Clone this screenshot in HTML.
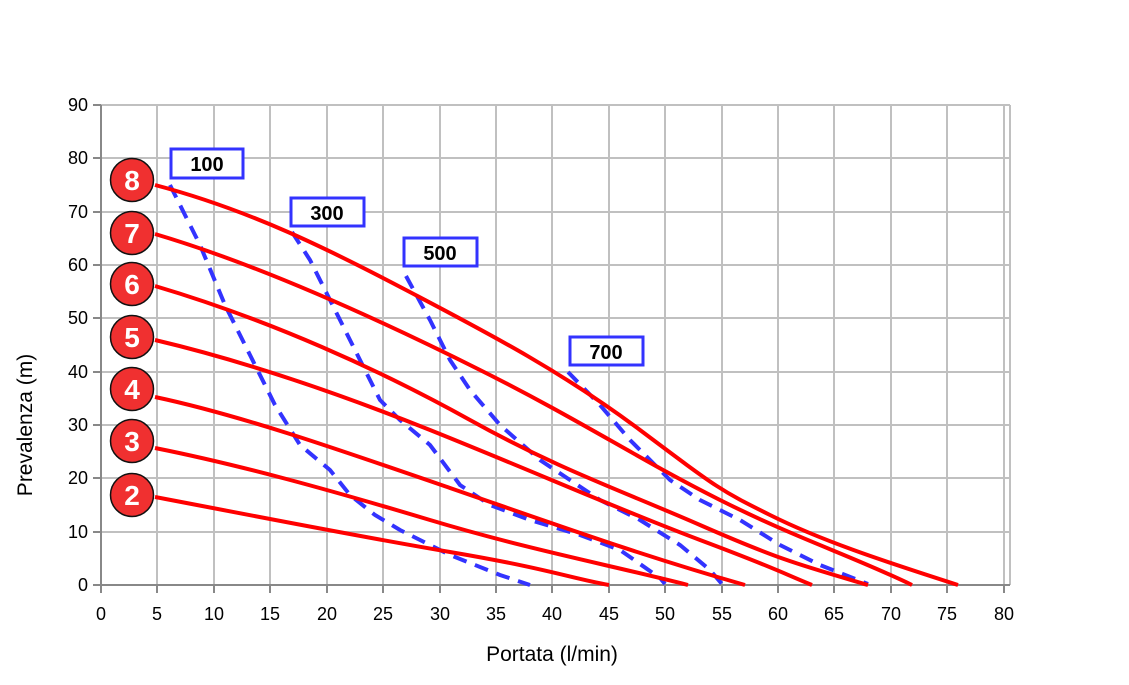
<!DOCTYPE html><html><head><style>body{margin:0;background:#fff}svg text{font-family:"Liberation Sans",sans-serif}</style></head><body>
<svg width="1129" height="680" xmlns="http://www.w3.org/2000/svg">
<g stroke="#c0c0c0" stroke-width="2">
<line x1="157" y1="105" x2="157" y2="585"/><line x1="214" y1="105" x2="214" y2="585"/><line x1="270" y1="105" x2="270" y2="585"/><line x1="327" y1="105" x2="327" y2="585"/><line x1="383" y1="105" x2="383" y2="585"/><line x1="440" y1="105" x2="440" y2="585"/><line x1="496" y1="105" x2="496" y2="585"/><line x1="552" y1="105" x2="552" y2="585"/><line x1="609" y1="105" x2="609" y2="585"/><line x1="665" y1="105" x2="665" y2="585"/><line x1="722" y1="105" x2="722" y2="585"/><line x1="778" y1="105" x2="778" y2="585"/><line x1="834" y1="105" x2="834" y2="585"/><line x1="891" y1="105" x2="891" y2="585"/><line x1="947" y1="105" x2="947" y2="585"/><line x1="1004" y1="105" x2="1004" y2="585"/><line x1="1010" y1="105" x2="1010" y2="585"/>
<line x1="101" y1="105" x2="1010" y2="105"/><line x1="101" y1="158" x2="1010" y2="158"/><line x1="101" y1="212" x2="1010" y2="212"/><line x1="101" y1="265" x2="1010" y2="265"/><line x1="101" y1="318" x2="1010" y2="318"/><line x1="101" y1="372" x2="1010" y2="372"/><line x1="101" y1="425" x2="1010" y2="425"/><line x1="101" y1="478" x2="1010" y2="478"/><line x1="101" y1="532" x2="1010" y2="532"/>
</g>
<g stroke="#888" stroke-width="2">
<line x1="101" y1="105" x2="101" y2="585"/><line x1="93" y1="585" x2="1010" y2="585"/>
<path d="M93 105H101M93 158H101M93 212H101M93 265H101M93 318H101M93 372H101M93 425H101M93 478H101M93 532H101M101 585V593M157 585V593M214 585V593M270 585V593M327 585V593M383 585V593M440 585V593M496 585V593M552 585V593M609 585V593M665 585V593M722 585V593M778 585V593M834 585V593M891 585V593M947 585V593M1004 585V593"/>
</g>
<g font-size="18" fill="#000" text-anchor="end">
<text x="88" y="111">90</text><text x="88" y="164">80</text><text x="88" y="218">70</text><text x="88" y="271">60</text><text x="88" y="324">50</text><text x="88" y="378">40</text><text x="88" y="431">30</text><text x="88" y="484">20</text><text x="88" y="538">10</text><text x="88" y="591">0</text>
</g>
<g font-size="18" fill="#000" text-anchor="middle">
<text x="101" y="620">0</text><text x="157" y="620">5</text><text x="214" y="620">10</text><text x="270" y="620">15</text><text x="327" y="620">20</text><text x="383" y="620">25</text><text x="440" y="620">30</text><text x="496" y="620">35</text><text x="552" y="620">40</text><text x="609" y="620">45</text><text x="665" y="620">50</text><text x="722" y="620">55</text><text x="778" y="620">60</text><text x="834" y="620">65</text><text x="891" y="620">70</text><text x="947" y="620">75</text><text x="1004" y="620">80</text>
<text x="552" y="661" font-size="21">Portata (l/min)</text>
<text x="0" y="0" font-size="21" transform="translate(32,425) rotate(-90)">Prevalenza (m)</text>
</g>
<g fill="none" stroke="#33f" stroke-width="4" stroke-dasharray="14,9">
<path d="M170 185L200 245 225 305 250 355 275 405 300 445 330 470 350 495 375 515 400 530 450 555 500 575 530 585"/>
<path d="M292 232L310 260 335 310 360 360 380 400 400 420 430 445 460 485 490 505 530 520 580 535 620 550 660 578 665 584"/>
<path d="M406 276L430 320 450 360 470 390 500 425 540 460 570 480 600 500 640 520 680 545 710 570 722 584"/>
<path d="M568 372L600 405 630 440 670 480 700 500 740 520 780 545 820 565 868 584"/>
</g>
<g fill="none" stroke="#f00" stroke-width="4">
<path d="M155 185C250 210 330 250 406 290S560 370 640 430 720 490 770 515 880 560 958 585"/>
<path d="M155 234C260 265 380 320 480 370S640 460 720 500 850 555 912 585"/>
<path d="M155 286C270 320 380 370 470 420S620 490 700 525 800 565 868 585"/>
<path d="M155 340C240 360 330 390 430 430S620 510 700 540 780 572 812 585"/>
<path d="M155 397C240 415 340 450 450 488S640 555 745 585"/>
<path d="M155 448C240 465 330 490 430 520S610 565 688 585"/>
<path d="M155 497C250 515 350 535 450 552S570 578 609 585"/>
</g>
<g fill="#fff" stroke="#33f" stroke-width="3">
<rect x="171" y="149" width="72" height="29"/><rect x="291" y="198" width="73" height="28"/><rect x="404" y="238" width="73" height="28"/><rect x="570" y="337" width="73" height="28"/>
</g>
<g font-size="20" font-weight="bold" fill="#000" text-anchor="middle">
<text x="207" y="171">100</text><text x="327" y="220">300</text><text x="440" y="260">500</text><text x="606" y="359">700</text>
</g>
<g fill="#f03030" stroke="#111" stroke-width="1.5">
<circle cx="132" cy="180" r="21.5"/><circle cx="132" cy="233" r="21.5"/><circle cx="132" cy="284" r="21.5"/><circle cx="132" cy="337" r="21.5"/><circle cx="132" cy="389" r="21.5"/><circle cx="132" cy="441" r="21.5"/><circle cx="132" cy="495" r="21.5"/>
</g>
<g font-size="28" font-weight="bold" fill="#fff" text-anchor="middle">
<text x="132" y="190">8</text><text x="132" y="243">7</text><text x="132" y="294">6</text><text x="132" y="347">5</text><text x="132" y="399">4</text><text x="132" y="451">3</text><text x="132" y="505">2</text>
</g>
</svg></body></html>
